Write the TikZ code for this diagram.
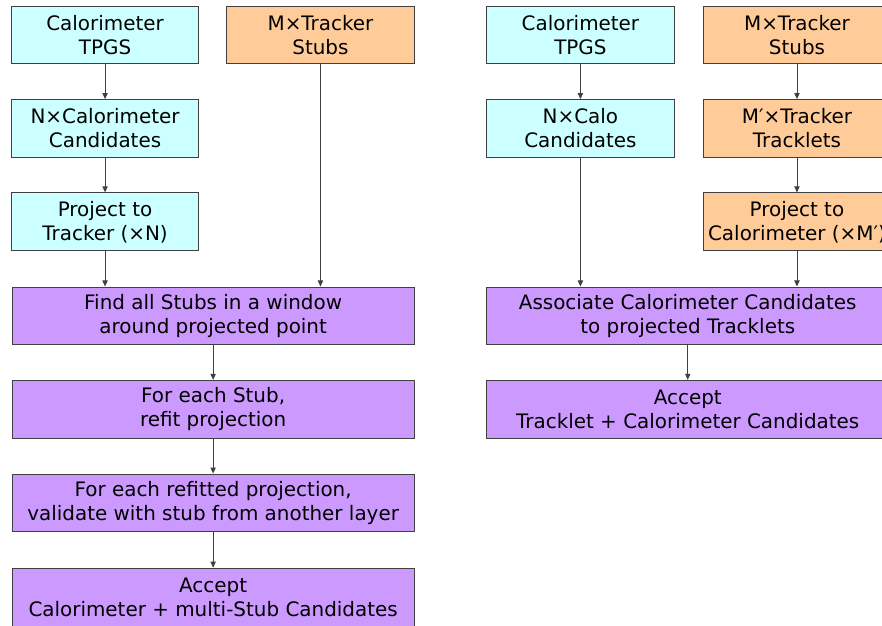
\documentclass[tikz,border=0pt]{standalone}
\usepackage{fontspec}
\setmainfont{DejaVu Sans}
\usetikzlibrary{positioning,arrows.meta,calc}
\definecolor{calocyan}{RGB}{204,255,255}
\definecolor{trkorange}{RGB}{255,204,153}
\definecolor{steppurple}{RGB}{204,153,255}
\definecolor{edgegrey}{RGB}{64,64,64}
\tikzset{
  fig/.style={font=\fontsize{15}{18}\selectfont},
  box/.style={draw=edgegrey,line width=0.25mm,minimum height=15.3mm,minimum width=49.5mm,
              align=center,inner sep=0pt},
  calobox/.style={box,fill=calocyan},
  trkbox/.style={box,fill=trkorange},
  widebox/.style={box,fill=steppurple,minimum width=106.4mm},
  ln/.style={-{Triangle[length=1.6mm,width=1.4mm]},line width=0.25mm,draw=edgegrey},
}

\begin{document}
\begin{tikzpicture}[fig]

\useasboundingbox (0,0) rectangle (233.4mm,-165.4mm);
\clip (0,0) rectangle (233.4mm,-165.4mm);

% Left chain: inputs
\node[calobox] (cal1) at (27.8mm,-9.26mm) {Calorimeter\\TPGS};
\node[trkbox] (stub1) at (84.8mm,-9.26mm) {M×Tracker\\Stubs};
\node[calobox] (ncal1) at (27.8mm,-34.0mm) {N×Calorimeter\\Candidates};
\node[calobox] (proj1) at (27.8mm,-58.7mm) {Project to\\Tracker (×N)};
\draw[ln] (cal1) -- (ncal1);
\draw[ln] (ncal1) -- (proj1);

% Left chain: stub matching
\node[widebox] (find) at (56.4mm,-83.6mm) {Find all Stubs in a window\\around projected point};
\node[widebox] (refit) at (56.4mm,-108.3mm) {For each Stub,\\refit projection};
\node[widebox] (valid) at (56.4mm,-133.1mm) {For each refitted projection,\\validate with stub from another layer};
\node[widebox] (acc1) at (56.4mm,-158.0mm) {Accept\\Calorimeter + multi-Stub Candidates};
\draw[ln] (proj1.south) -- (proj1.south |- find.north);
\draw[ln] (stub1.south) -- (stub1.south |- find.north);
\draw[ln] (find) -- (refit);
\draw[ln] (refit) -- (valid);
\draw[ln] (valid) -- (acc1);

% Right chain: inputs
\node[calobox] (cal2) at (153.6mm,-9.26mm) {Calorimeter\\TPGS};
\node[trkbox] (stub2) at (210.9mm,-9.26mm) {M×Tracker\\Stubs};
\node[calobox] (ncal2) at (153.6mm,-34.0mm) {N×Calo\\Candidates};
\node[trkbox] (trk2) at (210.9mm,-34.0mm) {M′×Tracker\\Tracklets};
\node[trkbox] (proj2) at (210.9mm,-58.7mm) {Project to\\Calorimeter (×M′)};
\draw[ln] (cal2) -- (ncal2);
\draw[ln] (stub2) -- (trk2);
\draw[ln] (trk2) -- (proj2);

% Right chain: association
\node[widebox] (assoc) at (182.0mm,-83.6mm) {Associate Calorimeter Candidates\\to projected Tracklets};
\node[widebox] (acc2) at (182.0mm,-108.3mm) {Accept\\Tracklet + Calorimeter Candidates};
\draw[ln] (ncal2.south) -- (ncal2.south |- assoc.north);
\draw[ln] (proj2.south) -- (proj2.south |- assoc.north);
\draw[ln] (assoc) -- (acc2);

\end{tikzpicture}
\end{document}
